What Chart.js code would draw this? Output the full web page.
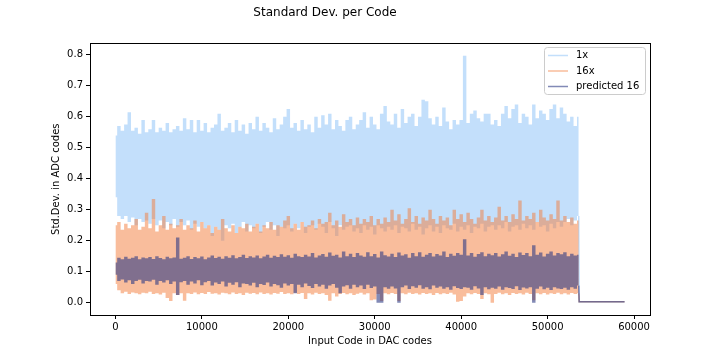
<!DOCTYPE html>
<html>
<head>
<meta charset="utf-8">
<script src="https://cdn.jsdelivr.net/npm/chart.js@4.4.1/dist/chart.umd.min.js"></script>
<style>
  html, body { margin: 0; padding: 0; background: #fff; }
</style>
</head>
<body>
<canvas id="chart" width="720" height="360"></canvas>
<script>
// input codes are sampled every 400 DAC codes from 0 to 53600
const codeStep = 400;
const bandCodes = Array.from({ length: 135 }, (_, i) => i * codeStep);

const seriesLabels = ['1x', '16x', 'predicted 16'];

// 1x: upper / lower edge of the noisy band
const oneXHigh = [
  0.54, 0.57, 0.555, 0.575, 0.615, 0.555, 0.565, 0.545, 0.59, 0.55,
  0.56, 0.59, 0.55, 0.565, 0.555, 0.58, 0.55, 0.56, 0.57, 0.555,
  0.595, 0.56, 0.59, 0.55, 0.59, 0.555, 0.58, 0.55, 0.565, 0.575,
  0.61, 0.555, 0.565, 0.58, 0.55, 0.59, 0.555, 0.575, 0.545, 0.58,
  0.56, 0.6, 0.555, 0.58, 0.565, 0.55, 0.595, 0.56, 0.575, 0.6,
  0.625, 0.565, 0.58, 0.555, 0.59, 0.56, 0.575, 0.55, 0.6, 0.565,
  0.605, 0.575, 0.61, 0.56, 0.59, 0.57, 0.555, 0.59, 0.6, 0.56,
  0.575, 0.59, 0.615, 0.565, 0.6, 0.575, 0.56, 0.61, 0.635, 0.585,
  0.575, 0.61, 0.565, 0.625, 0.58, 0.6, 0.61, 0.57, 0.6, 0.655,
  0.65, 0.595, 0.575, 0.6, 0.57, 0.63, 0.585, 0.56, 0.59, 0.575,
  0.59, 0.797, 0.58, 0.61, 0.62, 0.595, 0.585, 0.61, 0.61, 0.575,
  0.59, 0.57, 0.61, 0.635, 0.595, 0.625, 0.64, 0.58, 0.61, 0.6,
  0.575, 0.64, 0.595, 0.62, 0.61, 0.59, 0.625, 0.64, 0.595, 0.63,
  0.61, 0.585, 0.6, 0.57, 0.6
];
const oneXLow = [
  0.34, 0.28, 0.27, 0.28, 0.26, 0.275, 0.25, 0.27, 0.26, 0.265,
  0.255, 0.27, 0.25, 0.265, 0.24, 0.26, 0.25, 0.27, 0.245, 0.26,
  0.25, 0.265, 0.235, 0.255, 0.245, 0.26, 0.24, 0.25, 0.215, 0.245,
  0.235, 0.2, 0.25, 0.24, 0.255, 0.225, 0.245, 0.26, 0.23, 0.25,
  0.24, 0.255, 0.225, 0.245, 0.26, 0.235, 0.25, 0.215, 0.245, 0.24,
  0.25, 0.23, 0.255, 0.24, 0.26, 0.225, 0.245, 0.25, 0.235, 0.255,
  0.245, 0.225, 0.26, 0.24, 0.215, 0.25, 0.235, 0.245, 0.25, 0.23,
  0.24, 0.225, 0.25, 0.235, 0.245, 0.22, 0.25, 0.24, 0.23, 0.245,
  0.235, 0.25, 0.225, 0.245, 0.24, 0.23, 0.255, 0.235, 0.245, 0.22,
  0.24, 0.25, 0.23, 0.245, 0.225, 0.25, 0.24, 0.235, 0.255, 0.23,
  0.245, 0.235, 0.25, 0.225, 0.245, 0.24, 0.255, 0.23, 0.245, 0.25,
  0.235, 0.25, 0.24, 0.26, 0.23, 0.245, 0.25, 0.235, 0.255, 0.24,
  0.25, 0.235, 0.26, 0.245, 0.25, 0.23, 0.255, 0.24, 0.26, 0.245,
  0.26, 0.27, 0.25, 0.265, 0.28
];

// 16x
const sixteenXHigh = [
  0.25, 0.26, 0.235, 0.255, 0.24, 0.25, 0.27, 0.235, 0.245, 0.29,
  0.24, 0.335, 0.23, 0.25, 0.28, 0.235, 0.255, 0.24, 0.25, 0.27,
  0.235, 0.25, 0.24, 0.265, 0.23, 0.26, 0.24, 0.25, 0.225, 0.245,
  0.235, 0.27, 0.24, 0.23, 0.25, 0.225, 0.245, 0.24, 0.255, 0.23,
  0.245, 0.255, 0.23, 0.25, 0.24, 0.26, 0.235, 0.25, 0.245, 0.265,
  0.28, 0.24, 0.255, 0.235, 0.26, 0.245, 0.25, 0.265, 0.24, 0.27,
  0.255, 0.26, 0.29, 0.25, 0.265, 0.245, 0.285, 0.26, 0.27, 0.25,
  0.275, 0.255, 0.27, 0.26, 0.28, 0.25, 0.27, 0.255, 0.275, 0.26,
  0.3, 0.265, 0.285, 0.255, 0.27, 0.305, 0.26, 0.28, 0.255, 0.275,
  0.265, 0.3, 0.27, 0.255, 0.28, 0.265, 0.275, 0.25, 0.3, 0.27,
  0.285, 0.26, 0.29, 0.27, 0.255, 0.275, 0.3, 0.265, 0.28, 0.26,
  0.275, 0.31, 0.265, 0.28, 0.26, 0.285, 0.27, 0.33, 0.265, 0.28,
  0.27, 0.29, 0.26, 0.3, 0.275, 0.265, 0.285, 0.27, 0.33, 0.265,
  0.28, 0.26, 0.275, 0.255, 0.265
];
const sixteenXLow = [
  0.06, 0.04, 0.03, 0.035, 0.028, 0.033, 0.03, 0.027, 0.032, 0.03,
  0.035, 0.028, 0.03, 0.026, 0.032, 0.015, 0.005, 0.03, 0.025, 0.03,
  0.006, 0.03, 0.028, 0.033, 0.027, 0.031, 0.028, 0.034, 0.029, 0.03,
  0.026, 0.032, 0.03, 0.027, 0.033, 0.028, 0.03, 0.025, 0.032, 0.029,
  0.031, 0.027, 0.033, 0.028, 0.03, 0.026, 0.031, 0.029, 0.034, 0.028,
  0.03, 0.027, 0.032, 0.028, 0.031, 0.012, 0.03, 0.026, 0.032, 0.028,
  0.03, 0.025, 0.006, 0.03, 0.02, 0.028, 0.031, 0.027, 0.03, 0.025,
  0.029, 0.032, 0.026, 0.03, 0.008, 0.01, 0.028, 0.005, 0.03, 0.027,
  0.031, 0.028, 0.005, 0.03, 0.027, 0.032, 0.028, 0.03, 0.026, 0.031,
  0.028, 0.03, 0.025, 0.031, 0.027, 0.03, 0.028, 0.032, 0.026, 0.003,
  0.005, 0.02, 0.03, 0.027, 0.031, 0.028, 0.012, 0.03, 0.027, 0.0,
  0.028, 0.032, 0.027, 0.03, 0.025, 0.031, 0.028, 0.03, 0.026, 0.032,
  0.028, 0.008, 0.03, 0.027, 0.031, 0.026, 0.03, 0.028, 0.032, 0.027,
  0.03, 0.026, 0.031, 0.028, 0.03
];

// predicted 16
const predHigh = [
  0.13, 0.145, 0.14, 0.148, 0.142, 0.145, 0.15, 0.14, 0.146, 0.143,
  0.147, 0.141, 0.15, 0.144, 0.14, 0.148, 0.143, 0.146, 0.21, 0.142,
  0.145, 0.15, 0.141, 0.147, 0.143, 0.149, 0.14, 0.146, 0.152, 0.144,
  0.148, 0.142, 0.15, 0.145, 0.153, 0.143, 0.147, 0.155, 0.144, 0.15,
  0.146, 0.152, 0.143, 0.149, 0.155, 0.145, 0.151, 0.147, 0.156, 0.148,
  0.153, 0.145, 0.158, 0.15, 0.147, 0.155, 0.149, 0.16, 0.146, 0.152,
  0.157, 0.148, 0.162, 0.151, 0.155, 0.146, 0.165, 0.15, 0.158, 0.147,
  0.16, 0.152, 0.148, 0.163, 0.15, 0.157, 0.146, 0.165, 0.153, 0.149,
  0.158, 0.147, 0.162, 0.152, 0.156, 0.145, 0.16, 0.15, 0.163, 0.148,
  0.155, 0.16, 0.149, 0.157, 0.152, 0.165, 0.147, 0.158, 0.151, 0.16,
  0.155, 0.205, 0.152, 0.16, 0.148, 0.157, 0.163, 0.15, 0.158, 0.153,
  0.16, 0.149, 0.156, 0.165, 0.151, 0.158, 0.147, 0.162, 0.154, 0.16,
  0.15, 0.185, 0.155, 0.162, 0.149, 0.158, 0.165, 0.152, 0.16, 0.156,
  0.163, 0.15, 0.158, 0.152, 0.155
];
const predLow = [
  0.09, 0.07, 0.075, 0.065, 0.072, 0.06, 0.07, 0.074, 0.062, 0.07,
  0.068, 0.074, 0.058, 0.07, 0.065, 0.072, 0.06, 0.068, 0.025, 0.066,
  0.07, 0.058, 0.068, 0.062, 0.072, 0.056, 0.066, 0.07, 0.055, 0.065,
  0.06, 0.068, 0.052, 0.064, 0.058, 0.066, 0.05, 0.062, 0.06, 0.055,
  0.064, 0.05, 0.06, 0.057, 0.065, 0.052, 0.06, 0.056, 0.048, 0.062,
  0.055, 0.06, 0.03, 0.058, 0.05, 0.062, 0.054, 0.047, 0.06, 0.052,
  0.058, 0.045, 0.055, 0.06, 0.048, 0.03, 0.052, 0.056, 0.045, 0.058,
  0.05, 0.055, 0.044, 0.058, 0.047, 0.052, 0.0, 0.0, 0.05, 0.045,
  0.052, 0.046, 0.0, 0.05, 0.055, 0.044, 0.053, 0.048, 0.056, 0.045,
  0.05, 0.043, 0.055, 0.048, 0.052, 0.045, 0.05, 0.042, 0.053, 0.047,
  0.044, 0.05, 0.048, 0.042, 0.053, 0.046, 0.025, 0.05, 0.043, 0.048,
  0.045, 0.052, 0.042, 0.05, 0.047, 0.044, 0.053, 0.041, 0.049, 0.046,
  0.05, 0.0, 0.045, 0.052, 0.043, 0.048, 0.041, 0.05, 0.046, 0.044,
  0.048, 0.042, 0.05, 0.045, 0.055
];

// after the last measured code every series drops to ~0
const tailCodes = [53600, 53650, 58900];
const oneXTail = [0.28, 0.003, 0.003];
const sixteenXTail = [0.03, 0.003, 0.003];
const predTail = [0.055, 0.003, 0.003];

const xTicks = [0, 10000, 20000, 30000, 40000, 50000, 60000];
const yTicks = [0, 0.1, 0.2, 0.3, 0.4, 0.5, 0.6, 0.7, 0.8];

const colors = ['rgba(40, 140, 240, 0.28)', 'rgba(243, 123, 57, 0.5)', 'rgba(47, 60, 134, 0.6)'];

function pts(xs, ys) {
    return xs.map((x, i) => ({ x: x, y: ys[i] }));
}

// the band of each series is filled between its upper and lower edge
function band(high, low, idx) {
    return [
        { data: pts(bandCodes, high), fill: '+1', stepped: 'middle', backgroundColor: colors[idx], borderWidth: 0, order: 3 - idx },
        { data: pts(bandCodes, low), fill: false, stepped: 'middle', borderWidth: 0, order: 3 - idx }
    ];
}

function tail(values, idx) {
    return { data: pts(tailCodes, values), fill: false, borderColor: colors[idx], borderWidth: 1.5, order: 3 - idx };
}

const framePlugin = {
    id: 'frame',
    afterDatasetsDraw(chart) {
        const { ctx, chartArea: a } = chart;
        ctx.save();
        ctx.strokeStyle = '#000';
        ctx.lineWidth = 1;
        ctx.strokeRect(Math.floor(a.left) + 0.5, Math.floor(a.top) + 0.5,
            Math.round(a.right - a.left), Math.round(a.bottom - a.top));
        ctx.restore();
    }
};

const legendPlugin = {
    id: 'boxLegend',
    afterDraw(chart) {
        const { ctx, chartArea: a } = chart;
        const w = 101, h = 47;
        const x0 = a.right - 5 - w, y0 = Math.floor(a.top) + 4.5;
        ctx.save();
        ctx.beginPath();
        ctx.roundRect(x0 + 0.5, y0, w, h, 3);
        ctx.fillStyle = 'rgba(255,255,255,0.8)';
        ctx.fill();
        ctx.strokeStyle = '#cccccc';
        ctx.lineWidth = 1;
        ctx.stroke();
        ctx.font = '10px "DejaVu Sans"';
        ctx.textBaseline = 'middle';
        ctx.fillStyle = '#000';
        seriesLabels.forEach((label, i) => {
            const y = y0 + 8 + i * 15.5;
            ctx.strokeStyle = colors[i];
            ctx.lineWidth = 1.5;
            ctx.beginPath();
            ctx.moveTo(x0 + 4, y);
            ctx.lineTo(x0 + 24, y);
            ctx.stroke();
            ctx.fillText(label, x0 + 32, y);
        });
        ctx.restore();
    }
};

Chart.defaults.font.family = '"DejaVu Sans", sans-serif';
Chart.defaults.font.size = 10;
Chart.defaults.color = '#000';

new Chart(document.getElementById('chart'), {
    type: 'line',
    data: {
        datasets: [
            ...band(oneXHigh, oneXLow, 0),
            ...band(sixteenXHigh, sixteenXLow, 1),
            ...band(predHigh, predLow, 2),
            tail(oneXTail, 0),
            tail(sixteenXTail, 1),
            tail(predTail, 2)
        ]
    },
    options: {
        responsive: false,
        animation: false,
        events: [],
        elements: { point: { radius: 0 }, line: { tension: 0 } },
        layout: { padding: { left: 0, right: 70, top: 0, bottom: 0 } },
        plugins: {
            legend: { display: false },
            tooltip: { enabled: false },
            title: {
                display: true,
                text: 'Standard Dev. per Code',
                font: { size: 12, weight: 'normal' },
                color: '#000',
                padding: { top: 6, bottom: 23 }
            }
        },
        scales: {
            x: {
                type: 'linear',
                min: -2945,
                max: 61845,
                afterBuildTicks: scale => { scale.ticks = xTicks.map(v => ({ value: v })); },
                afterFit: scale => { scale.height = 45; },
                ticks: { padding: 2, maxRotation: 0, callback: v => String(v) },
                grid: { drawOnChartArea: false, tickLength: 4, tickColor: '#000', color: '#000' },
                border: { display: false },
                title: { display: true, text: 'Input Code in DAC codes', padding: { top: 0, bottom: 13 } }
            },
            y: {
                type: 'linear',
                min: -0.0399,
                max: 0.837,
                afterBuildTicks: scale => { scale.ticks = yTicks.map(v => ({ value: v })); },
                afterFit: scale => { scale.width = 90; },
                ticks: { padding: 3, callback: v => v.toFixed(1) },
                grid: { drawOnChartArea: false, tickLength: 4, tickColor: '#000', color: '#000' },
                border: { display: false },
                title: { display: true, text: 'Std.Dev. in ADC codes', padding: { top: 50, bottom: 0 } }
            }
        }
    },
    plugins: [framePlugin, legendPlugin]
});
</script>
</body>
</html>
